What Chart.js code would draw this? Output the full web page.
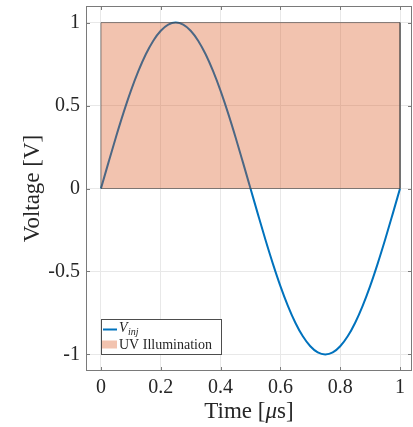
<!DOCTYPE html>
<html>
<head>
<meta charset="utf-8">
<script src="https://cdn.jsdelivr.net/npm/chart.js@4.4.1/dist/chart.umd.min.js"></script>
<style>
  html, body { margin: 0; padding: 0; background: #fff; }
</style>
</head>
<body>
<canvas id="myChart" width="413" height="427"></canvas>
<script>
"use strict";

// injected voltage, one period
const timeUs = [
    0, 0.025, 0.05, 0.075, 0.1, 0.125, 0.15, 0.175, 0.2, 0.225,
    0.25, 0.275, 0.3, 0.325, 0.35, 0.375, 0.4, 0.425, 0.45, 0.475,
    0.5, 0.525, 0.55, 0.575, 0.6, 0.625, 0.65, 0.675, 0.7, 0.725,
    0.75, 0.775, 0.8, 0.825, 0.85, 0.875, 0.9, 0.925, 0.95, 0.975, 1
];
const voltage = [
    0, 0.156, 0.309, 0.454, 0.588, 0.707, 0.809, 0.891, 0.951, 0.988,
    1, 0.988, 0.951, 0.891, 0.809, 0.707, 0.588, 0.454, 0.309, 0.156,
    0, -0.156, -0.309, -0.454, -0.588, -0.707, -0.809, -0.891, -0.951, -0.988,
    -1, -0.988, -0.951, -0.891, -0.809, -0.707, -0.588, -0.454, -0.309, -0.156, 0
];

// illumination window outline
const uvTime = [0, 0, 1, 1, 0];
const uvLevel = [0, 1, 1, 0, 0];

const xTicks = [0, 0.2, 0.4, 0.6, 0.8, 1];
const yTicks = [-1, -0.5, 0, 0.5, 1];

const lineColor = '#0072BD';
const uvFill = 'rgba(217, 83, 25, 0.35)';
const uvEdge = 'rgba(70, 70, 70, 0.65)';
const axisColor = '#7a7a7a';
const textColor = '#262626';
const serif = "'Liberation Serif', 'Times New Roman', serif";

const ctx = document.getElementById('myChart');

// closed box with inward tick marks on all four sides
const axisBoxPlugin = {
    id: 'axisBox',
    afterDatasetsDraw(chart) {
        const { ctx, chartArea: a } = chart;
        const { x, y } = chart.scales;
        const len = 4;
        ctx.save();
        ctx.strokeStyle = axisColor;
        ctx.lineWidth = 1;
        ctx.strokeRect(a.left + 0.5, a.top + 0.5, a.right - a.left - 1, a.bottom - a.top - 1);
        ctx.beginPath();
        xTicks.forEach(v => {
            const px = Math.round(x.getPixelForValue(v)) + 0.5;
            ctx.moveTo(px, a.bottom);
            ctx.lineTo(px, a.bottom - len);
            ctx.moveTo(px, a.top);
            ctx.lineTo(px, a.top + len);
        });
        yTicks.forEach(v => {
            const py = Math.round(y.getPixelForValue(v)) + 0.5;
            ctx.moveTo(a.left, py);
            ctx.lineTo(a.left + len, py);
            ctx.moveTo(a.right, py);
            ctx.lineTo(a.right - len, py);
        });
        ctx.stroke();
        ctx.restore();
    }
};

// x axis title with an italic mu, plus the legend box in the lower left
const annotationsPlugin = {
    id: 'annotations',
    afterDraw(chart) {
        const ctx = chart.ctx;
        const a = chart.chartArea;
        ctx.save();
        ctx.fillStyle = textColor;
        ctx.textBaseline = 'alphabetic';

        const parts = [
            { text: 'Time [', font: `23px ${serif}` },
            { text: '\u03bc', font: `italic 23px ${serif}` },
            { text: 's]', font: `23px ${serif}` }
        ];
        let total = 0;
        parts.forEach(p => {
            ctx.font = p.font;
            p.w = ctx.measureText(p.text).width;
            total += p.w;
        });
        let tx = (a.left + a.right) / 2 - total / 2;
        parts.forEach(p => {
            ctx.font = p.font;
            ctx.fillText(p.text, tx, 418);
            tx += p.w;
        });

        const bx = 101.5, by = 319.5, bw = 120, bh = 35;
        ctx.fillStyle = '#fff';
        ctx.fillRect(bx, by, bw, bh);
        ctx.strokeStyle = '#4d4d4d';
        ctx.lineWidth = 1;
        ctx.strokeRect(bx, by, bw, bh);

        // V_inj entry
        ctx.strokeStyle = lineColor;
        ctx.lineWidth = 2;
        ctx.beginPath();
        ctx.moveTo(103, 329.5);
        ctx.lineTo(117, 329.5);
        ctx.stroke();
        ctx.fillStyle = textColor;
        ctx.font = `italic 14px ${serif}`;
        ctx.fillText('V', 119, 332);
        const vw = ctx.measureText('V').width;
        ctx.font = `italic 10px ${serif}`;
        ctx.fillText('inj', 119 + vw + 0.5, 335);

        // UV Illumination entry
        ctx.fillStyle = uvFill;
        ctx.fillRect(102, 340.5, 15, 8);
        ctx.fillStyle = textColor;
        ctx.font = `14px ${serif}`;
        ctx.fillText('UV Illumination', 119, 349);
        ctx.restore();
    }
};

const chart = new Chart(ctx, {
    type: 'line',
    data: {
        datasets: [
            {
                label: 'V_inj',
                data: timeUs.map((t, i) => ({ x: t, y: voltage[i] })),
                borderColor: lineColor,
                borderWidth: 2,
                pointRadius: 0,
                cubicInterpolationMode: 'monotone',
                fill: false,
                order: 1
            },
            {
                label: 'UV Illumination',
                data: uvTime.map((t, i) => ({ x: t, y: uvLevel[i] })),
                borderColor: uvEdge,
                borderWidth: 1,
                backgroundColor: uvFill,
                pointRadius: 0,
                tension: 0,
                fill: 'shape',
                order: 0
            }
        ]
    },
    options: {
        responsive: false,
        animation: false,
        events: [],
        layout: {
            padding: { top: 6, right: 1, left: 0, bottom: 0 }
        },
        plugins: {
            legend: { display: false },
            tooltip: { enabled: false }
        },
        scales: {
            x: {
                type: 'linear',
                min: -0.05,
                max: 1.04,
                afterBuildTicks(scale) {
                    scale.ticks = xTicks.map(v => ({ value: v }));
                },
                afterFit(scale) {
                    scale.height = 56;
                    scale.paddingLeft = 0;
                    scale.paddingRight = 0;
                },
                grid: { color: '#e8e8e8', drawTicks: false },
                border: { display: false },
                ticks: {
                    color: textColor,
                    padding: 5,
                    maxRotation: 0,
                    font: { family: serif, size: 20 },
                    callback: v => String(v)
                }
            },
            y: {
                min: -1.1,
                max: 1.1,
                afterBuildTicks(scale) {
                    scale.ticks = yTicks.map(v => ({ value: v }));
                },
                afterFit(scale) {
                    scale.width = 86;
                    scale.paddingTop = 0;
                    scale.paddingBottom = 0;
                },
                grid: { color: '#e8e8e8', drawTicks: false },
                border: { display: false },
                ticks: {
                    color: textColor,
                    padding: 6,
                    font: { family: serif, size: 20 },
                    callback: v => String(v)
                },
                title: {
                    display: true,
                    text: 'Voltage [V]',
                    color: textColor,
                    padding: { top: 19, bottom: 0 },
                    font: { family: serif, size: 23 }
                }
            }
        }
    },
    plugins: [axisBoxPlugin, annotationsPlugin]
});
</script>
</body>
</html>
